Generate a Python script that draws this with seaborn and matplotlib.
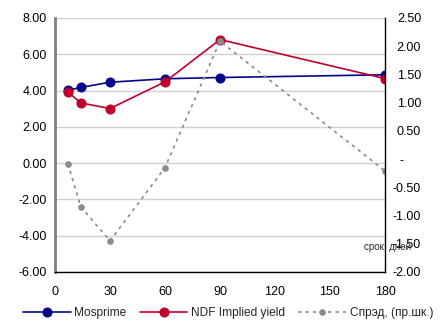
import matplotlib
matplotlib.use("Agg")
import matplotlib.pyplot as plt
import seaborn as sns
import pandas as pd
from matplotlib.ticker import FuncFormatter, MultipleLocator

days = [7, 14, 30, 60, 90, 180]
mosprime = [4.02, 4.17, 4.46, 4.65, 4.72, 4.87]
ndf_yield = [3.93, 3.32, 3.01, 4.48, 6.81, 4.66]
spread = [-0.08, -0.84, -1.45, -0.15, 2.09, -0.21]
x_label = "срок, дней"
names = ["Mosprime", "NDF Implied yield", "Спрэд, (пр.шк.)"]

sns.set_theme(style="white")
plt.rcParams['font.family'] = ['Liberation Sans', 'DejaVu Sans']

df = pd.DataFrame({"days": days, "mos": mosprime, "ndf": ndf_yield, "spread": spread})

fig = plt.figure(figsize=(4.45, 3.31), dpi=100)
ax = fig.add_axes([55/445, 1-272/331, 330/445, 254/331])
ax2 = ax.twinx()

navy = "#06068C"
red = "#C0002A"
grey = "#8C8C8C"

sns.lineplot(data=df, x="days", y="mos", ax=ax, color=navy, marker="o", markersize=6.5,
             markeredgecolor=navy, linewidth=1.2, label=names[0], legend=False)
sns.lineplot(data=df, x="days", y="ndf", ax=ax, color=red, marker="o", markersize=6.5,
             markeredgecolor=red, linewidth=1.2, label=names[1], legend=False)
sns.lineplot(data=df, x="days", y="spread", ax=ax2, color=grey, marker="o", markersize=4,
             markeredgecolor=grey, linewidth=1.2, linestyle=(0, (2, 2.5)), label=names[2], legend=False)

ax.set_xlim(0, 180)
ax.set_ylim(-6, 8)
ax2.set_ylim(-2, 2.5)
ax.xaxis.set_major_locator(MultipleLocator(30))
ax.yaxis.set_major_locator(MultipleLocator(2))
ax2.yaxis.set_major_locator(MultipleLocator(0.5))
ax.yaxis.set_major_formatter(FuncFormatter(lambda v, p: f"{v:.2f}"))
ax2.yaxis.set_major_formatter(FuncFormatter(lambda v, p: "-     " if abs(v) < 1e-9 else f"{v:.2f}"))
ax.set_xlabel("")
ax.set_ylabel("")
ax2.set_ylabel("")

ax.grid(axis="y", color="#D0D0D0", linewidth=1)
ax.grid(axis="x", visible=False)
ax2.grid(False)
ax.set_axisbelow(True)

for a in (ax, ax2):
    a.spines["top"].set_visible(False)
    a.tick_params(axis="both", length=0, labelsize=9, colors="#000000")
ax.spines["left"].set_color("#808080")
ax.spines["left"].set_linewidth(2)
ax.spines["right"].set_visible(False)
ax.spines["bottom"].set_color("black")
ax.spines["bottom"].set_linewidth(1)
ax2.spines["left"].set_visible(False)
ax2.spines["bottom"].set_visible(False)
ax2.spines["right"].set_color("black")
ax2.spines["right"].set_linewidth(1)
ax.tick_params(axis="x", pad=10)
ax.tick_params(axis="y", pad=6)
ax2.tick_params(axis="y", pad=26)
for lbl in ax2.get_yticklabels():
    lbl.set_horizontalalignment("right")

fig.text(387/445, 1-247/331, x_label, fontsize=7, ha="center", va="center", zorder=10)

h1, l1 = ax.get_legend_handles_labels()
h2, l2 = ax2.get_legend_handles_labels()
fig.legend(h1 + h2, l1 + l2, loc="center", bbox_to_anchor=(228/445, 1-313/331), ncol=3,
           frameon=False, fontsize=8.6, handlelength=4.0, handletextpad=0.3, columnspacing=1.1,
           borderaxespad=0)

fig.savefig("out.png", dpi=100)
